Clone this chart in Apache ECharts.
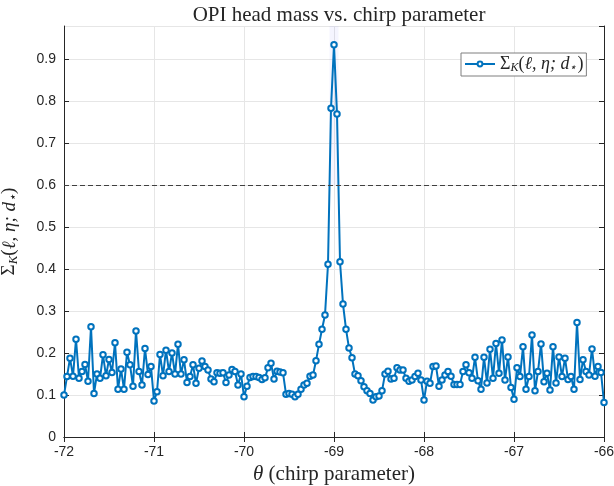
<!DOCTYPE html>
<html>
<head>
<meta charset="utf-8">
<script src="https://cdn.jsdelivr.net/npm/echarts@6/dist/echarts.min.js"></script>
<style>
  html, body { margin: 0; padding: 0; background: #fff; }
  #chart { width: 614px; height: 486px; }
</style>
</head>
<body>
<div id="chart"></div>
<script>
// Sweep of the chirp parameter θ: evenly spaced samples from -72 to -66
const THETA_START = -72;
const THETA_STEP = 1 / 30;

// Σ_K(ℓ, η; d⋆) at each θ sample
const sigmaValues = [
  0.100, 0.144, 0.188, 0.145, 0.233, 0.140, 0.156, 0.173, 0.133, 0.263,
  0.104, 0.150, 0.140, 0.196, 0.146, 0.185, 0.154, 0.225, 0.114, 0.162,
  0.114, 0.202, 0.172, 0.121, 0.253, 0.156, 0.124, 0.211, 0.149, 0.168,
  0.086, 0.108, 0.197, 0.146, 0.207, 0.156, 0.200, 0.150, 0.221, 0.150,
  0.184, 0.130, 0.144, 0.172, 0.128, 0.164, 0.181, 0.168, 0.160, 0.138,
  0.132, 0.153, 0.152, 0.153, 0.130, 0.148, 0.161, 0.156, 0.124, 0.150,
  0.096, 0.121, 0.142, 0.144, 0.144, 0.142, 0.137, 0.141, 0.165, 0.176,
  0.138, 0.157, 0.155, 0.153, 0.102, 0.104, 0.102, 0.096, 0.102, 0.114,
  0.124, 0.128, 0.145, 0.148, 0.182, 0.221, 0.257, 0.291, 0.412, 0.784,
  0.935, 0.770, 0.418, 0.317, 0.257, 0.212, 0.189, 0.150, 0.146, 0.134,
  0.120, 0.110, 0.104, 0.088, 0.096, 0.098, 0.110, 0.150, 0.157, 0.138,
  0.140, 0.165, 0.160, 0.160, 0.140, 0.133, 0.136, 0.144, 0.152, 0.136,
  0.088, 0.133, 0.128, 0.168, 0.169, 0.121, 0.136, 0.148, 0.156, 0.145,
  0.125, 0.125, 0.125, 0.156, 0.172, 0.153, 0.140, 0.190, 0.134, 0.114,
  0.190, 0.129, 0.209, 0.140, 0.223, 0.152, 0.231, 0.136, 0.191, 0.118,
  0.090, 0.165, 0.144, 0.215, 0.114, 0.144, 0.243, 0.110, 0.156, 0.222,
  0.132, 0.152, 0.112, 0.215, 0.129, 0.191, 0.144, 0.188, 0.137, 0.144,
  0.114, 0.273, 0.137, 0.184, 0.156, 0.148, 0.210, 0.145, 0.168, 0.154,
  0.082
];

const thresholdValue = 0.6;
const xTicks = [-72, -71, -70, -69, -68, -67, -66];
const yTop = 0.98;

const titleText = 'OPI head mass vs. chirp parameter';
const xAxisName = '{it|θ}{up| (chirp parameter)}';
const sigmaLabel = '{up|Σ}{sub|K}{up|(}{it|ℓ, η; d}{sub|⋆}{up|)}';

const points = sigmaValues.map((v, i) => [THETA_START + i * THETA_STEP, v]);

const axisColor = '#262626';
const gridColor = '#e6e6e6';
const serif = '"Liberation Serif", "DejaVu Serif", serif';
const sans = '"Liberation Sans", Arial, sans-serif';

const GRID = { left: 64, right: 10, top: 26, bottom: 49 };
const plotCenterX = GRID.left + (614 - GRID.left - GRID.right) / 2;

const mathRich = (size) => ({
  up: { fontFamily: serif, fontSize: size, color: axisColor },
  it: { fontFamily: serif, fontSize: size, fontStyle: 'italic', color: axisColor },
  sub: { fontFamily: serif, fontSize: Math.round(size * 0.68), fontStyle: 'italic',
         color: axisColor, verticalAlign: 'bottom', lineHeight: size + 2 }
});

const chart = echarts.init(document.getElementById('chart'), null, { renderer: 'canvas' });

chart.setOption({
  animation: false,
  backgroundColor: '#ffffff',
  title: {
    text: titleText,
    left: plotCenterX,
    textAlign: 'center',
    top: 0,
    textStyle: { fontFamily: serif, fontSize: 21, fontWeight: 'normal', color: axisColor }
  },
  // fixed plot box: labels and axis names may sit in the margins freely
  grid: Object.assign({ containLabel: false, outerBoundsMode: 'none' }, GRID),
  legend: {
    left: 461,
    top: 53,
    padding: [2, 3, 2, 3],
    backgroundColor: '#ffffff',
    borderColor: '#7f7f7f',
    borderWidth: 1,
    itemWidth: 30,
    itemHeight: 6,
    data: ['sigma'],
    formatter: () => sigmaLabel,
    textStyle: { rich: mathRich(18) }
  },
  xAxis: [
    {
      type: 'value',
      min: -72, max: -66, interval: 1,
      position: 'bottom',
      axisLine: { show: true, lineStyle: { color: axisColor, width: 1 } },
      axisTick: { show: true, inside: true, length: 5, lineStyle: { color: axisColor } },
      axisLabel: {
        fontFamily: sans, fontSize: 14, color: axisColor, margin: 8,
        formatter: (v) => (xTicks.includes(v) ? String(v) : '')
      },
      splitLine: { show: true, lineStyle: { color: gridColor, width: 1 } },
      name: xAxisName,
      nameLocation: 'middle',
      nameGap: 27,
      nameTextStyle: { rich: mathRich(21) }
    },
    {
      type: 'value',
      min: -72, max: -66, interval: 1,
      position: 'top',
      axisLine: { show: true, lineStyle: { color: axisColor, width: 1 } },
      axisTick: { show: true, inside: true, length: 5, lineStyle: { color: axisColor } },
      axisLabel: { show: false },
      splitLine: { show: false }
    }
  ],
  yAxis: [
    {
      type: 'value',
      min: 0, max: yTop, interval: 0.1,
      position: 'left',
      axisLine: { show: true, lineStyle: { color: axisColor, width: 1 } },
      axisTick: { show: true, inside: true, length: 5, lineStyle: { color: axisColor } },
      axisLabel: {
        fontFamily: sans, fontSize: 14, color: axisColor, margin: 8,
        showMaxLabel: false,
        formatter: (v) => (v === 0 ? '0' : v.toFixed(1))
      },
      splitLine: { show: true, lineStyle: { color: gridColor, width: 1 } },
      name: sigmaLabel,
      nameLocation: 'middle',
      nameGap: 44,
      nameRotate: 90,
      nameTextStyle: { rich: mathRich(19) }
    },
    {
      type: 'value',
      min: 0, max: yTop, interval: 0.1,
      position: 'right',
      axisLine: { show: true, lineStyle: { color: axisColor, width: 1 } },
      axisTick: { show: true, inside: true, length: 5, lineStyle: { color: axisColor } },
      axisLabel: { show: false },
      splitLine: { show: false }
    }
  ],
  series: [
    {
      name: 'sigma',
      type: 'line',
      xAxisIndex: 0,
      yAxisIndex: 0,
      data: points,
      symbol: 'emptyCircle',
      symbolSize: 5.5,
      showAllSymbol: true,
      lineStyle: { color: '#0072bd', width: 2 },
      itemStyle: { color: '#0072bd', borderWidth: 1.5 },
      z: 3,
      markLine: {
        silent: true,
        symbol: 'none',
        label: { show: false },
        lineStyle: { color: '#404040', type: [5, 3], width: 1.2 },
        data: [{ yAxis: thresholdValue }]
      },
      markArea: {
        silent: true,
        itemStyle: { color: 'rgba(120, 120, 255, 0.07)' },
        data: [[{ xAxis: -69.05, yAxis: thresholdValue }, { xAxis: -68.95, yAxis: yTop }]]
      }
    }
  ]
});
</script>
</body>
</html>
